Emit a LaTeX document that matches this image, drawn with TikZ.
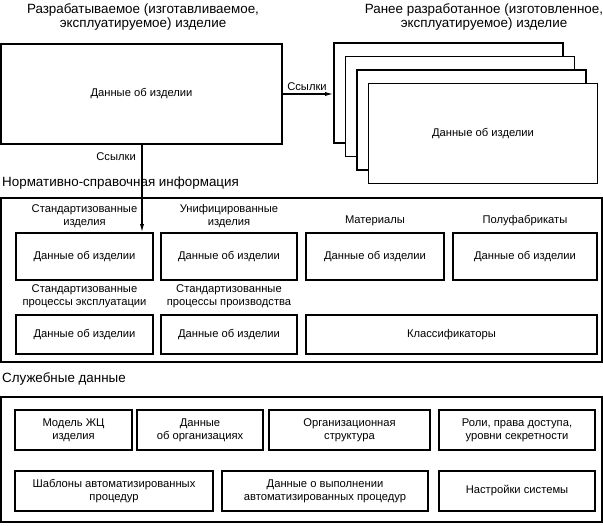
\documentclass[tikz,border=0pt]{standalone}
\usepackage{fontspec}
\setmainfont{Liberation Sans}
\usetikzlibrary{arrows.meta}
\tikzset{
  box/.style={draw, line width=1.6pt, inner sep=1pt, align=center, font=\fontsize{11.2}{12.8}\selectfont, fill=white},
  lbl/.style={inner sep=0pt, align=center, font=\fontsize{11.2}{12.8}\selectfont},
  ttl/.style={inner sep=0pt, align=center, font=\fontsize{13.4}{14.5}\selectfont},
  frame/.style={draw, line width=1.8pt},
  arr/.style={line width=1.2pt, -{Latex[length=8pt,width=4pt]}},
}
\newcommand{\bx}[7]{% name, x1, y1, x2, y2, text
  \node[box, minimum width={#4-#2}, minimum height={#5-#3}, #7] (#1) at ({(#2+#4)/2},{(#3+#5)/2}) {#6};}
\begin{document}
\begin{tikzpicture}[x=1pt,y=-1pt]
\useasboundingbox (0,0) rectangle (603,526);
% titles
\node[ttl] (t1) at (143,17) {Разрабатываемое (изготавливаемое,\\эксплуатируемое) изделие};
\node[ttl] (t2) at (484,17) {Ранее разработанное (изготовленное,\\эксплуатируемое) изделие};
% main box
\bx{main}{1}{44}{282}{144}{Данные об изделии}{}
% stack
\bx{r1}{334}{43}{563}{143}{}{}
\bx{r2}{345.5}{56.5}{574.5}{156.5}{}{}
\bx{r3}{357}{70}{586}{170}{}{}
\bx{r4}{368.5}{83.5}{597.5}{183.5}{Данные об изделии}{}
\draw[arr] (main.east) -- (main.east -| r1.west);
\node[lbl, anchor=south] (l1) at (307,91) {Ссылки};
% NSI
\node[ttl, anchor=west] (nsi) at (2,183) {Нормативно-справочная информация};
\draw[frame] (1,198) rectangle (602,362);
\bx{n1}{16}{233}{153}{280}{Данные об изделии}{}
\bx{n2}{161}{233}{297}{280}{Данные об изделии}{}
\bx{n3}{306}{233}{444}{280}{Данные об изделии}{}
\bx{n4}{453}{233}{597}{280}{Данные об изделии}{}
\bx{n5}{16}{315}{153}{354}{Данные об изделии}{}
\bx{n6}{161}{315}{297}{354}{Данные об изделии}{}
\bx{n7}{306}{315}{597}{354}{Классификаторы}{}
\node[lbl] (a1) at (84.5,216) {Стандартизованные\\изделия};
\node[lbl] (a2) at (229,216) {Унифицированные\\изделия};
\node[lbl] (a3) at (375,221) {Материалы};
\node[lbl] (a4) at (525,221) {Полуфабрикаты};
\node[lbl] (a5) at (84.5,296.5) {Стандартизованные\\процессы эксплуатации};
\node[lbl] (a6) at (229,296.5) {Стандартизованные\\процессы производства};
\coordinate (ax) at (142,0);
\draw[arr] (main.south -| ax) -- (n1.north -| ax);
\node[lbl, anchor=east] (l2) at (136,157) {Ссылки};
% service
\node[ttl, anchor=west] (sd) at (2,379) {Служебные данные};
\draw[frame] (1,397) rectangle (602,522);
\bx{s1}{15}{410}{132}{450}{Модель ЖЦ\\изделия}{}
\bx{s2}{137}{410}{263}{450}{Данные\\об организациях}{}
\bx{s3}{269}{410}{430}{450}{Организационная\\структура}{}
\bx{s4}{439}{410}{595}{450}{Роли, права доступа,\\уровни секретности}{}
\bx{s5}{15}{471}{213}{511}{Шаблоны автоматизированных\\процедур}{}
\bx{s6}{222}{471}{428}{511}{Данные о выполнении\\автоматизированных процедур}{}
\bx{s7}{439}{471}{595}{511}{Настройки системы}{}
\end{tikzpicture}
\end{document}
